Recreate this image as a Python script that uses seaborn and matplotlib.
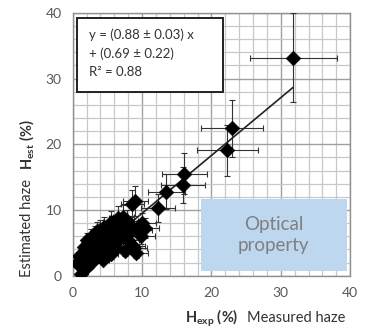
import matplotlib
matplotlib.use("Agg")
import matplotlib.pyplot as plt
import seaborn as sns
import pandas as pd
from matplotlib.patches import Rectangle
from matplotlib.ticker import MultipleLocator

# ---- data ----
h_exp = [31.8, 23.0, 22.3, 16.1, 15.9, 13.5, 12.3, 9.0, 8.6,
         0.6, 1.2, 1.0, 1.3, 1.5, 1.7, 1.9, 2.0, 2.2, 2.3, 2.5, 2.6, 2.8, 3.0,
         3.1, 3.3, 3.5, 3.6, 3.8, 4.0, 4.1, 4.3, 4.5, 4.6, 4.8, 5.0, 5.2, 5.4,
         5.6, 5.8, 6.0, 6.3, 6.5, 6.8, 7.0, 7.2, 7.5, 7.8, 8.1, 8.4, 8.7, 9.1,
         8.9, 9.5, 10.0, 10.4, 2.0, 3.2, 1.6, 0.9, 4.4, 5.5, 6.2, 7.6,
         5.5, 6.5, 4.5, 3.5, 7.3, 9.8, 8.0, 2.7, 3.9, 1.1]
h_est = [33.2, 22.4, 19.1, 15.5, 13.8, 12.8, 10.3, 11.4, 10.9,
         2.0, 0.2, 1.5, 2.6, 1.8, 3.2, 2.3, 1.4, 3.6, 2.8, 4.2, 2.0, 3.3, 4.8,
         2.6, 3.9, 5.2, 3.0, 4.4, 5.8, 3.6, 4.9, 6.2, 3.9, 5.4, 6.6, 4.5, 5.9,
         7.1, 4.9, 6.3, 7.4, 5.5, 6.8, 7.8, 5.9, 7.2, 8.3, 6.5, 7.6, 4.5, 3.4,
         4.2, 7.0, 8.0, 7.3, 5.4, 6.3, 4.3, 3.0, 2.4, 3.3, 4.2, 3.8,
         8.2, 8.8, 7.4, 6.8, 9.0, 6.0, 5.5, 5.9, 7.0, 2.2]
h_exp_err = [6.3, 4.5, 4.4, 3.2, 3.2, 2.7, 2.5, 1.8, 1.7,
             0.1, 0.2, 0.2, 0.3, 0.3, 0.3, 0.4, 0.4, 0.4, 0.5, 0.5, 0.5, 0.6, 0.6,
             0.6, 0.7, 0.7, 0.7, 0.8, 0.8, 0.8, 0.9, 0.9, 0.9, 1.0, 1.0, 1.0, 1.1,
             1.1, 1.2, 1.2, 1.3, 1.3, 1.4, 1.4, 1.4, 1.5, 1.6, 1.6, 1.7, 1.7, 1.8,
             1.8, 1.9, 2.0, 2.1, 0.4, 0.6, 0.3, 0.2, 0.9, 1.1, 1.2, 1.5,
             1.1, 1.3, 0.9, 0.7, 1.5, 2.0, 1.6, 0.5, 0.8, 0.2]
h_est_err = [6.7, 4.4, 3.9, 3.1, 2.8, 2.6, 2.1, 2.3, 2.2,
             0.4, 0.1, 0.3, 0.5, 0.4, 0.6, 0.5, 0.3, 0.7, 0.6, 0.8, 0.4, 0.7, 1.0,
             0.5, 0.8, 1.0, 0.6, 0.9, 1.2, 0.7, 1.0, 1.2, 0.8, 1.1, 1.3, 0.9, 1.2,
             1.4, 1.0, 1.3, 1.5, 1.1, 1.4, 1.6, 1.2, 1.4, 1.7, 1.3, 1.5, 0.9, 0.7,
             0.8, 1.4, 1.6, 1.5, 1.1, 1.3, 0.9, 0.6, 0.5, 0.7, 0.8, 0.8,
             1.6, 1.8, 1.5, 1.4, 1.8, 1.2, 1.1, 1.2, 1.4, 0.4]

fit_slope = 0.88
fit_intercept = 0.69
fit_x_range = [0.6, 31.8]

eq_lines = ["y = (0.88 \u00b1 0.03) x", "+ (0.69 \u00b1 0.22)", "R\u00b2 = 0.88"]
x_ticks = [0, 10, 20, 30, 40]
y_ticks = [0, 10, 20, 30, 40]

# ---- style ----
sns.set_style("white")
plt.rcParams['font.family'] = ['Lato', 'DejaVu Sans']
plt.rcParams['mathtext.fontset'] = 'custom'
plt.rcParams['mathtext.rm'] = 'Lato'
plt.rcParams['mathtext.bf'] = 'Lato:bold'

fig = plt.figure(figsize=(3.67, 3.29), dpi=100)
ax = fig.add_axes([0.198, 0.162, 0.756, 0.799])

df = pd.DataFrame({"x": h_exp, "y": h_est, "xe": h_exp_err, "ye": h_est_err})

ax.errorbar(df["x"], df["y"], xerr=df["xe"], yerr=df["ye"], fmt='none',
            ecolor='#333333', elinewidth=0.8, capsize=2.5, capthick=0.8, zorder=3)
sns.scatterplot(data=df, x="x", y="y", marker='D', color='black', s=55,
                edgecolor='black', linewidth=0.5, ax=ax, zorder=4, legend=False)

fit_df = pd.DataFrame({"x": fit_x_range,
                       "y": [fit_slope * v + fit_intercept for v in fit_x_range]})
sns.lineplot(data=fit_df, x="x", y="y", color='#222222', linewidth=1.2, ax=ax, zorder=3)

ax.set_xlim(0, 40)
ax.set_ylim(0, 40)
ax.xaxis.set_minor_locator(MultipleLocator(2))
ax.yaxis.set_minor_locator(MultipleLocator(2))
ax.set_xticks(x_ticks)
ax.set_yticks(y_ticks)
ax.grid(True, which='minor', color='#c8c8c8', linewidth=0.9, zorder=0)
ax.grid(True, which='major', color='#a0a0a0', linewidth=1.0, zorder=0)
ax.set_axisbelow(True)
for s in ax.spines.values():
    s.set_color('#909090')
    s.set_linewidth(1.0)
ax.tick_params(axis='both', which='major', length=5, width=1, color='#909090',
               labelsize=10, labelcolor='#595959', pad=3)
ax.tick_params(axis='both', which='minor', length=0)
ax.set_xlabel("")
ax.set_ylabel("")

# equation box
ax.add_patch(Rectangle((0.6, 28.0), 21.1, 11.2, facecolor='white', edgecolor='#222222',
                       linewidth=1.4, zorder=5))
for i, line in enumerate(eq_lines):
    ax.text(2.3, 36.7 - i * 2.85, line, fontsize=9.5, color='#333333',
            va='center', ha='left', zorder=6)

# blue annotation box
ax.add_patch(Rectangle((18.5, 0.76), 21.1, 10.9, facecolor='#bdd7ee', edgecolor='none',
                       zorder=5, clip_on=False))
ax.text(29.0, 6.2, "Optical\nproperty", fontsize=13.5, color='#7f7f7f',
        ha='center', va='center', linespacing=1.25, zorder=6)

# axis labels
fig.text(185 / 367, 1 - 318 / 329, r"$\mathbf{H_{exp}}$" + " (%)", fontsize=10.5,
         fontweight='bold', color='#333333', ha='left', va='center')
fig.text(247 / 367, 1 - 318 / 329, "Measured haze", fontsize=10.5, color='#333333',
         ha='left', va='center')
fig.text(27 / 367, 1 - 228 / 329, "Estimated haze", fontsize=10.5, color='#333333',
         ha='center', va='center', rotation=90)
fig.text(27 / 367, 1 - 145 / 329, r"$\mathbf{H_{est}}$" + " (%)", fontsize=10.5,
         fontweight='bold', color='#333333', ha='center', va='center', rotation=90)

fig.savefig("out.png", dpi=100)
